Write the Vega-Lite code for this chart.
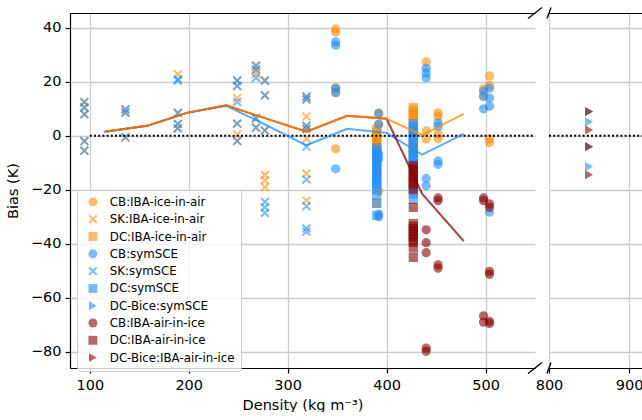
{
  "$schema": "https://vega.github.io/schema/vega-lite/v6.json",
  "background": "white",
  "padding": {"left": 5, "top": 6, "right": 0, "bottom": 0},
  "spacing": 14,
  "bounds": "flush",
  "config": {
    "font": "DejaVu Sans",
    "view": {"stroke": null},
    "axis": {
      "labelFont": "DejaVu Sans", "titleFont": "DejaVu Sans",
      "labelFontSize": 14.5, "titleFontSize": 14.5, "titleFontWeight": "normal",
      "labelColor": "black", "titleColor": "black",
      "domainColor": "black", "domainWidth": 1.2,
      "tickColor": "black", "tickSize": 5, "tickWidth": 1.2,
      "gridColor": "#cccccc", "gridWidth": 1.3,
      "labelFlush": false, "labelOverlap": false
    }
  },
  "datasets": {
    "pts": [
      {"s":"CB:IBA-ice-in-air","d":348.5,"b":39.6},{"s":"CB:IBA-ice-in-air","d":348.5,"b":38.4},{"s":"CB:IBA-ice-in-air","d":348.5,"b":17.8},{"s":"CB:IBA-ice-in-air","d":348.5,"b":16.2},{"s":"CB:IBA-ice-in-air","d":348.5,"b":-4.8},
      {"s":"CB:IBA-ice-in-air","d":392,"b":8.5},{"s":"CB:IBA-ice-in-air","d":392,"b":4.4},{"s":"CB:IBA-ice-in-air","d":392,"b":-20.5},
      {"s":"CB:IBA-ice-in-air","d":440,"b":27.4},{"s":"CB:IBA-ice-in-air","d":440,"b":1.8},{"s":"CB:IBA-ice-in-air","d":440,"b":-1.2},
      {"s":"CB:IBA-ice-in-air","d":452,"b":8.5},{"s":"CB:IBA-ice-in-air","d":452,"b":7.2},{"s":"CB:IBA-ice-in-air","d":452,"b":0.7},{"s":"CB:IBA-ice-in-air","d":452,"b":-1.1},
      {"s":"CB:IBA-ice-in-air","d":498,"b":17.4},{"s":"CB:IBA-ice-in-air","d":498,"b":15},
      {"s":"CB:IBA-ice-in-air","d":504,"b":22.2},{"s":"CB:IBA-ice-in-air","d":504,"b":18.7},{"s":"CB:IBA-ice-in-air","d":504,"b":-1.1},{"s":"CB:IBA-ice-in-air","d":504,"b":-2.5},

      {"s":"SK:IBA-ice-in-air","d":94.5,"b":12.5},{"s":"SK:IBA-ice-in-air","d":94.5,"b":10.5},{"s":"SK:IBA-ice-in-air","d":94.5,"b":8},{"s":"SK:IBA-ice-in-air","d":94.5,"b":-2},{"s":"SK:IBA-ice-in-air","d":94.5,"b":-5.5},
      {"s":"SK:IBA-ice-in-air","d":136,"b":9.8},{"s":"SK:IBA-ice-in-air","d":136,"b":8.6},{"s":"SK:IBA-ice-in-air","d":136,"b":-0.6},
      {"s":"SK:IBA-ice-in-air","d":189,"b":22.8},{"s":"SK:IBA-ice-in-air","d":189,"b":8.5},{"s":"SK:IBA-ice-in-air","d":189,"b":4.4},{"s":"SK:IBA-ice-in-air","d":189,"b":2.8},
      {"s":"SK:IBA-ice-in-air","d":249,"b":20.5},{"s":"SK:IBA-ice-in-air","d":249,"b":18.5},{"s":"SK:IBA-ice-in-air","d":249,"b":14},{"s":"SK:IBA-ice-in-air","d":249,"b":4.5},{"s":"SK:IBA-ice-in-air","d":249,"b":0.5},{"s":"SK:IBA-ice-in-air","d":249,"b":-1.9},
      {"s":"SK:IBA-ice-in-air","d":268,"b":26},{"s":"SK:IBA-ice-in-air","d":268,"b":24.5},{"s":"SK:IBA-ice-in-air","d":268,"b":23},{"s":"SK:IBA-ice-in-air","d":268,"b":6.5},{"s":"SK:IBA-ice-in-air","d":268,"b":3},
      {"s":"SK:IBA-ice-in-air","d":277,"b":20.5},{"s":"SK:IBA-ice-in-air","d":277,"b":15},{"s":"SK:IBA-ice-in-air","d":277,"b":2},{"s":"SK:IBA-ice-in-air","d":277,"b":-14.5},{"s":"SK:IBA-ice-in-air","d":277,"b":-16.5},{"s":"SK:IBA-ice-in-air","d":277,"b":-19},
      {"s":"SK:IBA-ice-in-air","d":319,"b":14.5},{"s":"SK:IBA-ice-in-air","d":319,"b":13.5},{"s":"SK:IBA-ice-in-air","d":319,"b":7.2},{"s":"SK:IBA-ice-in-air","d":319,"b":3.7},{"s":"SK:IBA-ice-in-air","d":319,"b":2.6},{"s":"SK:IBA-ice-in-air","d":319,"b":-1},{"s":"SK:IBA-ice-in-air","d":319,"b":-14},{"s":"SK:IBA-ice-in-air","d":319,"b":-24},

      {"s":"DC:IBA-ice-in-air","d":390,"b":2.5},{"s":"DC:IBA-ice-in-air","d":390,"b":1.5},{"s":"DC:IBA-ice-in-air","d":390,"b":0.5},{"s":"DC:IBA-ice-in-air","d":390,"b":-0.5},{"s":"DC:IBA-ice-in-air","d":390,"b":-1.5},{"s":"DC:IBA-ice-in-air","d":390,"b":-2.5},{"s":"DC:IBA-ice-in-air","d":390,"b":-3.5},{"s":"DC:IBA-ice-in-air","d":390,"b":-4.5},{"s":"DC:IBA-ice-in-air","d":390,"b":-25},
      {"s":"DC:IBA-ice-in-air","d":427,"b":10.5},{"s":"DC:IBA-ice-in-air","d":427,"b":9.5},{"s":"DC:IBA-ice-in-air","d":427,"b":8.5},{"s":"DC:IBA-ice-in-air","d":427,"b":7.5},{"s":"DC:IBA-ice-in-air","d":427,"b":6.5},{"s":"DC:IBA-ice-in-air","d":427,"b":5.5},{"s":"DC:IBA-ice-in-air","d":427,"b":-3},{"s":"DC:IBA-ice-in-air","d":427,"b":-4},{"s":"DC:IBA-ice-in-air","d":427,"b":-5.5},{"s":"DC:IBA-ice-in-air","d":427,"b":-18.5},

      {"s":"CB:symSCE","d":348.5,"b":34.8},{"s":"CB:symSCE","d":348.5,"b":33.6},{"s":"CB:symSCE","d":348.5,"b":17.6},{"s":"CB:symSCE","d":348.5,"b":16},{"s":"CB:symSCE","d":348.5,"b":-12.2},
      {"s":"CB:symSCE","d":392,"b":8.2},{"s":"CB:symSCE","d":392,"b":4.2},{"s":"CB:symSCE","d":392,"b":-6.7},{"s":"CB:symSCE","d":392,"b":-8.6},{"s":"CB:symSCE","d":392,"b":-29},{"s":"CB:symSCE","d":392,"b":-30},
      {"s":"CB:symSCE","d":440,"b":25},{"s":"CB:symSCE","d":440,"b":23.3},{"s":"CB:symSCE","d":440,"b":21.5},{"s":"CB:symSCE","d":440,"b":-15.8},{"s":"CB:symSCE","d":440,"b":-18.5},
      {"s":"CB:symSCE","d":452,"b":4.8},{"s":"CB:symSCE","d":452,"b":3.5},{"s":"CB:symSCE","d":452,"b":-9.3},{"s":"CB:symSCE","d":452,"b":-10.6},
      {"s":"CB:symSCE","d":498,"b":16.6},{"s":"CB:symSCE","d":498,"b":14.5},{"s":"CB:symSCE","d":498,"b":10},
      {"s":"CB:symSCE","d":504,"b":17.6},{"s":"CB:symSCE","d":504,"b":14},{"s":"CB:symSCE","d":504,"b":11},{"s":"CB:symSCE","d":504,"b":-28.3},

      {"s":"SK:symSCE","d":94.5,"b":12.5},{"s":"SK:symSCE","d":94.5,"b":10.5},{"s":"SK:symSCE","d":94.5,"b":8},{"s":"SK:symSCE","d":94.5,"b":-2},{"s":"SK:symSCE","d":94.5,"b":-5.5},
      {"s":"SK:symSCE","d":136,"b":9.8},{"s":"SK:symSCE","d":136,"b":8.6},{"s":"SK:symSCE","d":136,"b":-0.6},
      {"s":"SK:symSCE","d":189,"b":21},{"s":"SK:symSCE","d":189,"b":20.5},{"s":"SK:symSCE","d":189,"b":8.5},{"s":"SK:symSCE","d":189,"b":4.4},{"s":"SK:symSCE","d":189,"b":2.8},
      {"s":"SK:symSCE","d":249,"b":20.5},{"s":"SK:symSCE","d":249,"b":18.5},{"s":"SK:symSCE","d":249,"b":12.6},{"s":"SK:symSCE","d":249,"b":4.5},{"s":"SK:symSCE","d":249,"b":-1.9},
      {"s":"SK:symSCE","d":268,"b":26},{"s":"SK:symSCE","d":268,"b":24.5},{"s":"SK:symSCE","d":268,"b":21.5},{"s":"SK:symSCE","d":268,"b":6.5},{"s":"SK:symSCE","d":268,"b":3},
      {"s":"SK:symSCE","d":277,"b":20.5},{"s":"SK:symSCE","d":277,"b":15},{"s":"SK:symSCE","d":277,"b":2},{"s":"SK:symSCE","d":277,"b":-24.5},{"s":"SK:symSCE","d":277,"b":-26.5},{"s":"SK:symSCE","d":277,"b":-28.5},
      {"s":"SK:symSCE","d":319,"b":14.5},{"s":"SK:symSCE","d":319,"b":13.5},{"s":"SK:symSCE","d":319,"b":3.7},{"s":"SK:symSCE","d":319,"b":2.6},{"s":"SK:symSCE","d":319,"b":-4},{"s":"SK:symSCE","d":319,"b":-16.2},{"s":"SK:symSCE","d":319,"b":-26},{"s":"SK:symSCE","d":319,"b":-34.3},{"s":"SK:symSCE","d":319,"b":-35.5},

      {"s":"DC:symSCE","d":390,"b":-4.5},{"s":"DC:symSCE","d":390,"b":-5.5},{"s":"DC:symSCE","d":390,"b":-6.5},{"s":"DC:symSCE","d":390,"b":-7.5},{"s":"DC:symSCE","d":390,"b":-8.5},{"s":"DC:symSCE","d":390,"b":-9.5},{"s":"DC:symSCE","d":390,"b":-10.5},{"s":"DC:symSCE","d":390,"b":-11.5},{"s":"DC:symSCE","d":390,"b":-12.5},{"s":"DC:symSCE","d":390,"b":-13.5},{"s":"DC:symSCE","d":390,"b":-14.5},{"s":"DC:symSCE","d":390,"b":-15.5},{"s":"DC:symSCE","d":390,"b":-16.5},{"s":"DC:symSCE","d":390,"b":-17.5},{"s":"DC:symSCE","d":390,"b":-18.5},{"s":"DC:symSCE","d":390,"b":-20},{"s":"DC:symSCE","d":390,"b":-22},{"s":"DC:symSCE","d":390,"b":-25},{"s":"DC:symSCE","d":390,"b":-29.5},
      {"s":"DC:symSCE","d":427,"b":4.5},{"s":"DC:symSCE","d":427,"b":3.5},{"s":"DC:symSCE","d":427,"b":2.5},{"s":"DC:symSCE","d":427,"b":1.5},{"s":"DC:symSCE","d":427,"b":0.5},{"s":"DC:symSCE","d":427,"b":-0.5},{"s":"DC:symSCE","d":427,"b":-1.5},{"s":"DC:symSCE","d":427,"b":-2.5},{"s":"DC:symSCE","d":427,"b":-4.5},{"s":"DC:symSCE","d":427,"b":-5.5},{"s":"DC:symSCE","d":427,"b":-6.5},{"s":"DC:symSCE","d":427,"b":-7.5},{"s":"DC:symSCE","d":427,"b":-8.5},{"s":"DC:symSCE","d":427,"b":-9.5},{"s":"DC:symSCE","d":427,"b":-10.5},{"s":"DC:symSCE","d":427,"b":-19.5},{"s":"DC:symSCE","d":427,"b":-21.5},{"s":"DC:symSCE","d":427,"b":-23.5},

      {"s":"DC-Bice:symSCE","d":850,"b":9},{"s":"DC-Bice:symSCE","d":850,"b":5.2},{"s":"DC-Bice:symSCE","d":850,"b":-4},{"s":"DC-Bice:symSCE","d":850,"b":-11.4},

      {"s":"CB:IBA-air-in-ice","d":440,"b":-34.8},{"s":"CB:IBA-air-in-ice","d":440,"b":-39.6},{"s":"CB:IBA-air-in-ice","d":440,"b":-43.3},{"s":"CB:IBA-air-in-ice","d":440,"b":-78.6},{"s":"CB:IBA-air-in-ice","d":440,"b":-79.8},
      {"s":"CB:IBA-air-in-ice","d":452,"b":-23},{"s":"CB:IBA-air-in-ice","d":452,"b":-24},{"s":"CB:IBA-air-in-ice","d":452,"b":-47.8},{"s":"CB:IBA-air-in-ice","d":452,"b":-49},
      {"s":"CB:IBA-air-in-ice","d":498,"b":-23},{"s":"CB:IBA-air-in-ice","d":498,"b":-24},{"s":"CB:IBA-air-in-ice","d":498,"b":-66.7},{"s":"CB:IBA-air-in-ice","d":498,"b":-69},
      {"s":"CB:IBA-air-in-ice","d":504,"b":-25.2},{"s":"CB:IBA-air-in-ice","d":504,"b":-26.5},{"s":"CB:IBA-air-in-ice","d":504,"b":-50.2},{"s":"CB:IBA-air-in-ice","d":504,"b":-51.3},{"s":"CB:IBA-air-in-ice","d":504,"b":-68.7},{"s":"CB:IBA-air-in-ice","d":504,"b":-69.5},

      {"s":"DC:IBA-air-in-ice","d":427,"b":-11},{"s":"DC:IBA-air-in-ice","d":427,"b":-12},{"s":"DC:IBA-air-in-ice","d":427,"b":-13},{"s":"DC:IBA-air-in-ice","d":427,"b":-14},{"s":"DC:IBA-air-in-ice","d":427,"b":-15},{"s":"DC:IBA-air-in-ice","d":427,"b":-16},{"s":"DC:IBA-air-in-ice","d":427,"b":-17},{"s":"DC:IBA-air-in-ice","d":427,"b":-18},{"s":"DC:IBA-air-in-ice","d":427,"b":-20},{"s":"DC:IBA-air-in-ice","d":427,"b":-26.5},{"s":"DC:IBA-air-in-ice","d":427,"b":-32.5},{"s":"DC:IBA-air-in-ice","d":427,"b":-33.5},{"s":"DC:IBA-air-in-ice","d":427,"b":-34.5},{"s":"DC:IBA-air-in-ice","d":427,"b":-35.5},{"s":"DC:IBA-air-in-ice","d":427,"b":-36.5},{"s":"DC:IBA-air-in-ice","d":427,"b":-37.5},{"s":"DC:IBA-air-in-ice","d":427,"b":-38.5},{"s":"DC:IBA-air-in-ice","d":427,"b":-39.5},{"s":"DC:IBA-air-in-ice","d":427,"b":-41.5},{"s":"DC:IBA-air-in-ice","d":427,"b":-45},

      {"s":"DC-Bice:IBA-air-in-ice","d":850,"b":9},{"s":"DC-Bice:IBA-air-in-ice","d":850,"b":2.2},{"s":"DC-Bice:IBA-air-in-ice","d":850,"b":-4},{"s":"DC-Bice:IBA-air-in-ice","d":850,"b":-14.4}
    ],
    "lines": [
      {"l":"blue","d":115,"b":1.5},{"l":"blue","d":158,"b":3.7},{"l":"blue","d":198,"b":8.5},{"l":"blue","d":238,"b":11.1},{"l":"blue","d":270,"b":5.5},{"l":"blue","d":319,"b":-3.5},{"l":"blue","d":360,"b":2.6},{"l":"blue","d":400,"b":1.1},{"l":"blue","d":436,"b":-7},{"l":"blue","d":478,"b":0.7},
      {"l":"red","d":115,"b":1.5},{"l":"red","d":158,"b":3.7},{"l":"red","d":198,"b":8.5},{"l":"red","d":238,"b":11.3},{"l":"red","d":270,"b":7.4},{"l":"red","d":319,"b":1.5},{"l":"red","d":360,"b":7.4},{"l":"red","d":400,"b":6.3},{"l":"red","d":436,"b":-21.5},{"l":"red","d":478,"b":-39},
      {"l":"orange","d":115,"b":1.5},{"l":"orange","d":158,"b":3.7},{"l":"orange","d":198,"b":8.5},{"l":"orange","d":238,"b":11.3},{"l":"orange","d":270,"b":7.4},{"l":"orange","d":319,"b":1.5},{"l":"orange","d":360,"b":7.4},{"l":"orange","d":400,"b":6.3},{"l":"orange","d":436,"b":0.3},{"l":"orange","d":478,"b":8.1}
    ]
  },
  "resolve": {"scale": {"x": "independent", "y": "independent", "color": "independent", "shape": "independent"}},
  "hconcat": [
    {
      "width": 465,
      "height": 355,
      "resolve": {"axis": {"x": "independent"}},
      "layer": [
        {
          "data": {"name": "pts"},
          "transform": [{"filter": "datum.d < 700"}],
          "mark": {"type": "point", "filled": true, "opacity": 0.6, "size": 86, "strokeWidth": 0},
          "encoding": {
            "x": {"field": "d", "type": "quantitative", "scale": {"domain": [80, 550], "nice": false, "zero": false},
                  "axis": {"orient": "bottom", "values": [100, 200, 300, 400, 500], "title": "Density (kg m⁻³)", "grid": true, "labelPadding": 5, "titlePadding": 7}},
            "y": {"field": "b", "type": "quantitative", "scale": {"domain": [-86, 45.5], "nice": false, "zero": false},
                  "axis": {"values": [-80, -60, -40, -20, 0, 20, 40], "title": "Bias (K)", "grid": true, "labelPadding": 4, "titlePadding": 10}},
            "color": {"field": "s", "type": "nominal",
              "scale": {"domain": ["CB:IBA-ice-in-air","SK:IBA-ice-in-air","DC:IBA-ice-in-air","CB:symSCE","SK:symSCE","DC:symSCE","DC-Bice:symSCE","CB:IBA-air-in-ice","DC:IBA-air-in-ice","DC-Bice:IBA-air-in-ice"],
                        "range": ["#ff8c00","#ff8c00","#ff8c00","#1e90ff","#1e90ff","#1e90ff","#1e90ff","#8b0000","#8b0000","#8b0000"]},
              "legend": {"orient": "none", "legendX": 7, "legendY": 177, "title": null, "fillColor": "rgba(255,255,255,0.8)", "strokeColor": "#cccccc", "cornerRadius": 3, "padding": 6, "labelFont": "DejaVu Sans", "labelFontSize": 11.8, "labelColor": "black", "symbolSize": 80, "symbolOpacity": 0.6, "symbolStrokeWidth": 0, "rowPadding": 4.3, "symbolOffset": 4, "labelOffset": 11}},
            "shape": {"field": "s", "type": "nominal",
              "scale": {"domain": ["CB:IBA-ice-in-air","SK:IBA-ice-in-air","DC:IBA-ice-in-air","CB:symSCE","SK:symSCE","DC:symSCE","DC-Bice:symSCE","CB:IBA-air-in-ice","DC:IBA-air-in-ice","DC-Bice:IBA-air-in-ice"],
                        "range": ["circle","M-1,-0.7L-0.7,-1L0,-0.3L0.7,-1L1,-0.7L0.3,0L1,0.7L0.7,1L0,0.3L-0.7,1L-1,0.7L-0.3,0Z","square","circle","M-1,-0.7L-0.7,-1L0,-0.3L0.7,-1L1,-0.7L0.3,0L1,0.7L0.7,1L0,0.3L-0.7,1L-1,0.7L-0.3,0Z","square","triangle-right","circle","square","triangle-right"]},
              "legend": {"orient": "none", "legendX": 7, "legendY": 177, "title": null, "fillColor": "rgba(255,255,255,0.8)", "strokeColor": "#cccccc", "cornerRadius": 3, "padding": 6, "labelFont": "DejaVu Sans", "labelFontSize": 11.8, "labelColor": "black", "symbolSize": 80, "symbolOpacity": 0.6, "symbolStrokeWidth": 0, "rowPadding": 4.3, "symbolOffset": 4, "labelOffset": 11}}
          }
        },
        {
          "data": {"values": [{}]},
          "mark": {"type": "rule", "color": "black", "strokeWidth": 2, "strokeDash": [2, 2.2]},
          "encoding": {
            "x": {"datum": 100, "type": "quantitative", "axis": {"orient": "top", "labels": false, "ticks": false, "grid": false, "title": null, "domain": true}},
            "x2": {"datum": 550},
            "y": {"datum": 0, "type": "quantitative"}
          }
        },
        {
          "data": {"name": "lines"},
          "transform": [{"filter": "datum.l == 'blue'"}],
          "mark": {"type": "line", "color": "#1e90ff", "strokeWidth": 2, "opacity": 0.75},
          "encoding": {
            "x": {"field": "d", "type": "quantitative", "axis": null},
            "y": {"field": "b", "type": "quantitative"}
          }
        },
        {
          "data": {"name": "lines"},
          "transform": [{"filter": "datum.l == 'red'"}],
          "mark": {"type": "line", "color": "#8b0000", "strokeWidth": 2, "opacity": 0.75},
          "encoding": {
            "x": {"field": "d", "type": "quantitative", "axis": null},
            "y": {"field": "b", "type": "quantitative"}
          }
        },
        {
          "data": {"name": "lines"},
          "transform": [{"filter": "datum.l == 'orange'"}],
          "mark": {"type": "line", "color": "#ff8c00", "strokeWidth": 2, "opacity": 0.75},
          "encoding": {
            "x": {"field": "d", "type": "quantitative", "axis": null},
            "y": {"field": "b", "type": "quantitative"}
          }
        },
        {
          "data": {"values": [{}]},
          "mark": {"type": "rule", "color": "black", "strokeWidth": 1.3, "clip": false},
          "encoding": {
            "x": {"datum": 542.9, "type": "quantitative", "axis": null},
            "x2": {"datum": 557.1},
            "y": {"datum": 43.5, "type": "quantitative"},
            "y2": {"datum": 47.5}
          }
        },
        {
          "data": {"values": [{}]},
          "mark": {"type": "rule", "color": "black", "strokeWidth": 1.3, "clip": false},
          "encoding": {
            "x": {"datum": 542.9, "type": "quantitative", "axis": null},
            "x2": {"datum": 557.1},
            "y": {"datum": -88, "type": "quantitative"},
            "y2": {"datum": -84}
          }
        }
      ]
    },
    {
      "width": 93,
      "height": 355,
      "resolve": {"axis": {"x": "independent"}},
      "layer": [
        {
          "data": {"name": "pts"},
          "transform": [{"filter": "datum.d > 700"}],
          "mark": {"type": "point", "filled": true, "opacity": 0.6, "size": 86, "strokeWidth": 0},
          "encoding": {
            "x": {"field": "d", "type": "quantitative", "scale": {"domain": [800, 916], "nice": false, "zero": false},
                  "axis": {"orient": "bottom", "values": [800, 900], "title": null, "grid": true, "labelPadding": 5}},
            "y": {"field": "b", "type": "quantitative", "scale": {"domain": [-86, 45.5], "nice": false, "zero": false},
                  "axis": {"values": [-80, -60, -40, -20, 0, 20, 40], "title": null, "grid": true, "labels": false, "ticks": false, "domain": false}},
            "color": {"field": "s", "type": "nominal",
              "scale": {"domain": ["CB:IBA-ice-in-air","SK:IBA-ice-in-air","DC:IBA-ice-in-air","CB:symSCE","SK:symSCE","DC:symSCE","DC-Bice:symSCE","CB:IBA-air-in-ice","DC:IBA-air-in-ice","DC-Bice:IBA-air-in-ice"],
                        "range": ["#ff8c00","#ff8c00","#ff8c00","#1e90ff","#1e90ff","#1e90ff","#1e90ff","#8b0000","#8b0000","#8b0000"]},
              "legend": null},
            "shape": {"field": "s", "type": "nominal",
              "scale": {"domain": ["CB:IBA-ice-in-air","SK:IBA-ice-in-air","DC:IBA-ice-in-air","CB:symSCE","SK:symSCE","DC:symSCE","DC-Bice:symSCE","CB:IBA-air-in-ice","DC:IBA-air-in-ice","DC-Bice:IBA-air-in-ice"],
                        "range": ["circle","square","square","circle","square","square","triangle-right","circle","square","triangle-right"]},
              "legend": null}
          }
        },
        {
          "data": {"values": [{}]},
          "mark": {"type": "rule", "color": "black", "strokeWidth": 2, "strokeDash": [2, 2.2]},
          "encoding": {
            "x": {"datum": 800, "type": "quantitative", "axis": {"orient": "top", "labels": false, "ticks": false, "grid": false, "title": null, "domain": true}},
            "x2": {"datum": 916},
            "y": {"datum": 0, "type": "quantitative"}
          }
        },
        {
          "data": {"values": [{}]},
          "mark": {"type": "rule", "color": "black", "strokeWidth": 1.3, "clip": false},
          "encoding": {
            "x": {"datum": 797.5, "type": "quantitative", "axis": null},
            "x2": {"datum": 802.5},
            "y": {"datum": 43.5, "type": "quantitative"},
            "y2": {"datum": 47.5}
          }
        },
        {
          "data": {"values": [{}]},
          "mark": {"type": "rule", "color": "black", "strokeWidth": 1.3, "clip": false},
          "encoding": {
            "x": {"datum": 797.5, "type": "quantitative", "axis": null},
            "x2": {"datum": 802.5},
            "y": {"datum": -88, "type": "quantitative"},
            "y2": {"datum": -84}
          }
        }
      ]
    }
  ]
}
